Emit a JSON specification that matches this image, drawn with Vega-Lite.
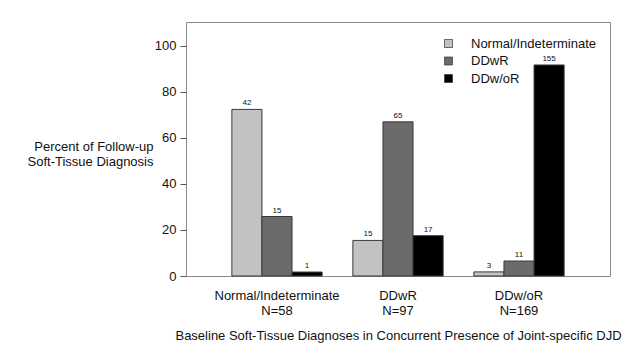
{
  "$schema": "https://vega.github.io/schema/vega-lite/v6.json",
  "width": 424,
  "height": 254,
  "autosize": {"type": "none"},
  "padding": {"left": 186, "top": 22, "right": 27, "bottom": 72},
  "background": "white",
  "config": {
    "font": "Liberation Sans",
    "view": {"stroke": "#8a8a8a", "strokeWidth": 1},
    "axis": {"labelFont": "Liberation Sans", "titleFont": "Liberation Sans", "labelColor": "#111", "titleColor": "#111", "titleFontWeight": "normal", "grid": false}
  },
  "data": {
    "values": [
      {"group": "Normal/Indeterminate|N=58", "category": "Normal/Indeterminate", "count": 42, "pct": 72.41},
      {"group": "Normal/Indeterminate|N=58", "category": "DDwR", "count": 15, "pct": 25.86},
      {"group": "Normal/Indeterminate|N=58", "category": "DDw/oR", "count": 1, "pct": 1.72},
      {"group": "DDwR|N=97", "category": "Normal/Indeterminate", "count": 15, "pct": 15.46},
      {"group": "DDwR|N=97", "category": "DDwR", "count": 65, "pct": 67.01},
      {"group": "DDwR|N=97", "category": "DDw/oR", "count": 17, "pct": 17.53},
      {"group": "DDw/oR|N=169", "category": "Normal/Indeterminate", "count": 3, "pct": 1.78},
      {"group": "DDw/oR|N=169", "category": "DDwR", "count": 11, "pct": 6.51},
      {"group": "DDw/oR|N=169", "category": "DDw/oR", "count": 155, "pct": 91.72}
    ]
  },
  "encoding": {
    "x": {
      "field": "group", "type": "nominal",
      "sort": ["Normal/Indeterminate|N=58", "DDwR|N=97", "DDw/oR|N=169"],
      "scale": {"paddingInner": 0.254, "paddingOuter": 0.379},
      "axis": {
        "title": "Baseline Soft-Tissue Diagnoses in Concurrent Presence of Joint-specific DJD",
        "titleFontSize": 13, "titleBaseline": "middle", "titleY": 59,
        "labelExpr": "split(datum.label, '|')",
        "labelAngle": 0, "labelFontSize": 13, "labelLineHeight": 15.5, "labelPadding": 13,
        "domain": false, "ticks": false
      }
    },
    "xOffset": {
      "field": "category", "type": "nominal",
      "sort": ["Normal/Indeterminate", "DDwR", "DDw/oR"],
      "scale": {"paddingInner": 0, "paddingOuter": 0}
    },
    "y": {
      "field": "pct", "type": "quantitative",
      "scale": {"domain": [0, 110.4], "nice": false},
      "axis": {
        "title": ["Percent of Follow-up", "Soft-Tissue Diagnosis"],
        "titleAngle": 0, "titleAlign": "right", "titleBaseline": "middle",
        "titleX": -33, "titleY": 124, "titleFontSize": 13, "titleLineHeight": 15,
        "values": [0, 20, 40, 60, 80, 100],
        "labelFontSize": 13, "labelPadding": 4, "tickSize": 6, "tickColor": "#555",
        "domain": false
      }
    }
  },
  "layer": [
    {
      "mark": {"type": "bar", "stroke": "#3a3a3a", "strokeWidth": 1},
      "encoding": {
        "color": {
          "field": "category", "type": "nominal",
          "sort": ["Normal/Indeterminate", "DDwR", "DDw/oR"],
          "scale": {"domain": ["Normal/Indeterminate", "DDwR", "DDw/oR"], "range": ["#c2c2c2", "#6b6b6b", "#000000"]},
          "legend": {
            "title": null, "orient": "none", "legendX": 256, "legendY": 15,
            "symbolType": "square", "symbolSize": 64, "symbolStrokeColor": "#333", "symbolStrokeWidth": 0.7,
            "labelFont": "Liberation Sans", "labelFontSize": 13, "labelColor": "#111", "labelOffset": 16, "rowPadding": 3.5
          }
        }
      }
    },
    {
      "mark": {"type": "text", "baseline": "bottom", "dy": -2, "fontSize": 8, "font": "Liberation Sans", "color": "#111"},
      "encoding": {"text": {"field": "count", "type": "quantitative"}}
    }
  ]
}
